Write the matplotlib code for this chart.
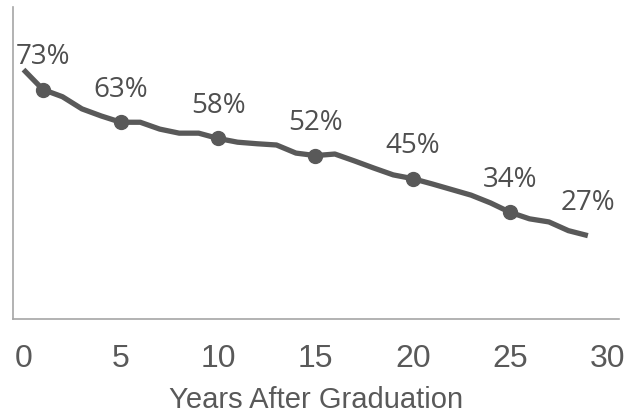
import matplotlib
matplotlib.use("Agg")
import matplotlib.pyplot as plt
import numpy as np

# share still repaying, by year after graduation
years = list(range(30))
share = [79.9, 73.5, 71.2, 67.3, 65.0, 63.0, 63.0, 60.8, 59.5, 59.5,
         57.8, 56.6, 56.1, 55.7, 53.1, 52.3, 52.8, 50.6, 48.3, 46.1,
         44.9, 43.2, 41.4, 39.6, 37.1, 34.1, 32.0, 31.0, 28.2, 26.6]

marker_years = [1, 5, 10, 15, 20, 25]
label_years = [1, 5, 10, 15, 20, 25, 29]
label_text = ["73%", "63%", "58%", "52%", "45%", "34%", "27%"]

xticks = [0, 5, 10, 15, 20, 25, 30]

grey = "#595959"

fig = plt.figure(figsize=(6.29, 4.14), dpi=100)
ax = fig.add_axes([13/629, 1 - 319.5/414, 606/629, 311.5/414])

ax.plot(years, share, color=grey, lw=3.8, solid_capstyle="butt", zorder=2)
ax.plot(marker_years, [share[y] for y in marker_years], "o", color=grey,
        ms=10, zorder=3)

for yr, txt in zip(label_years, label_text):
    ax.annotate(txt, (yr, share[yr]), xytext=(0, 19.2), textcoords="offset points",
                ha="center", va="baseline", fontsize=20, color="#4f4f4f",
                family="Open Sans")

ax.set_xlim(-0.54, 30.6)
ax.set_ylim(0, 100)
ax.set_xticks(xticks)
ax.set_yticks([])
ax.tick_params(axis="x", length=0, pad=17.5, labelsize=23, labelcolor=grey)
for lab in ax.get_xticklabels():
    lab.set_family("Liberation Sans")
ax.set_xlabel("Years After Graduation", fontsize=21, color=grey,
              family="Liberation Sans", labelpad=9)

for s in ["top", "right"]:
    ax.spines[s].set_visible(False)
for s in ["left", "bottom"]:
    ax.spines[s].set_color("#a6a6a6")
    ax.spines[s].set_linewidth(1.2)

fig.savefig("out.png", dpi=100)
